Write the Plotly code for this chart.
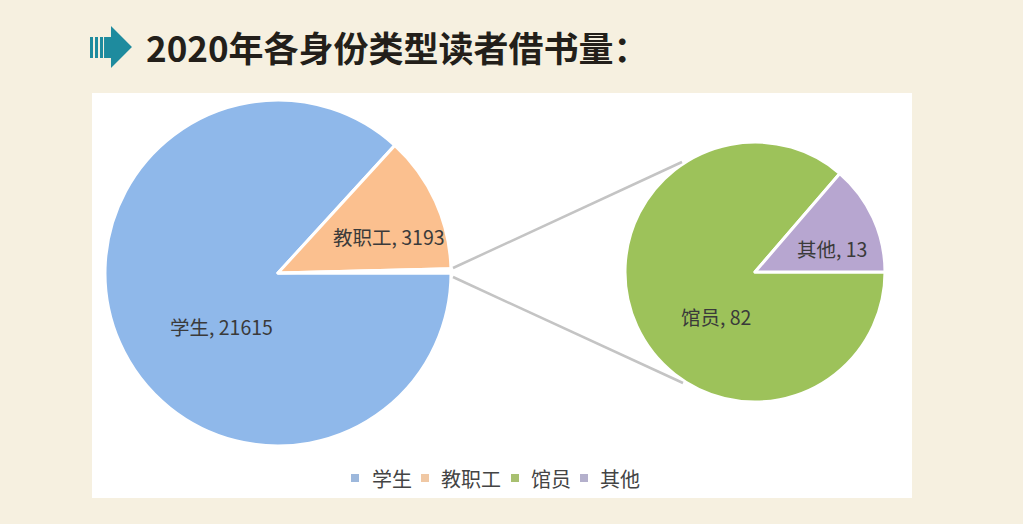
import plotly.graph_objects as go

W = 1023
H = 524
FONT = "Noto Sans CJK SC"

title = "2020年各身份类型读者借书量："
labels_main = ["学生", "教职工", "馆员+其他"]
values_main = [21615, 3193, 95]
colors_main = ["#8FB8EA", "#FBC08F", "#FFFFFF"]
labels_sub = ["馆员", "其他"]
values_sub = [82, 13]
colors_sub = ["#9DC25A", "#B7A6D0"]
legend_labels = ["学生", "教职工", "馆员", "其他"]
legend_colors = ["#9DB8DC", "#F0C8A4", "#A8C070", "#B4B0CC"]
legend_square_x = [355, 425, 515, 584]
legend_text_x = [370, 439, 529, 598]


def px(x):
    return x / W


def py(y):
    return 1 - y / H


def pie_domain(cx, cy, r):
    return dict(x=[px(cx - r), px(cx + r)], y=[py(cy + r), py(cy - r)])


def rect(x0, y0, x1, y1, color):
    return dict(type="rect", xref="paper", yref="paper", x0=px(x0), x1=px(x1), y0=py(y0), y1=py(y1),
                fillcolor=color, line=dict(width=0), layer="below")


def seg(x0, y0, x1, y1):
    return dict(type="line", xref="paper", yref="paper", x0=px(x0), x1=px(x1), y0=py(y0), y1=py(y1),
                line=dict(color="#C4C4C4", width=2.5))


def text(x, y, s, size, color="#3A3A3A", anchor="center"):
    return dict(x=px(x), y=py(y), xref="paper", yref="paper", text=s, showarrow=False, xanchor=anchor,
                yanchor="middle", font=dict(family=FONT, size=size, color=color))


fig = go.Figure()
fig.add_trace(go.Pie(labels=labels_main, values=values_main, sort=False, direction="clockwise", rotation=90,
                     domain=pie_domain(278, 273, 173), textinfo="none", hoverinfo="label+value", showlegend=False,
                     marker=dict(colors=colors_main, line=dict(color="#FFFFFF", width=3))))
fig.add_trace(go.Pie(labels=labels_sub, values=values_sub, sort=False, direction="clockwise", rotation=90,
                     domain=pie_domain(755, 272, 130), textinfo="none", hoverinfo="label+value", showlegend=False,
                     marker=dict(colors=colors_sub, line=dict(color="#FFFFFF", width=3))))

shapes = [rect(92, 93, 912, 498, "#FFFFFF"), seg(453, 268, 682, 162), seg(453, 277, 683, 383)]

# arrow icon
teal = "#1E8B9E"
for x0, x1 in [(90, 93), (95, 98), (100, 103)]:
    shapes.append(rect(x0, 37, x1, 58, teal))
arrow = [(104, 37), (111, 37), (111, 26), (132, 47), (111, 68), (111, 58), (104, 58)]
path = "M " + " L ".join(f"{px(a):.4f},{py(b):.4f}" for a, b in arrow) + " Z"
shapes.append(dict(type="path", xref="paper", yref="paper", path=path, fillcolor=teal, line=dict(width=0)))

annotations = [
    text(144, 47, f"<b>{title}</b>", 35, "#231F1A", "left"),
    text(221, 326, f"{labels_main[0]}, {values_main[0]}", 19.5),
    text(389, 236, f"{labels_main[1]}, {values_main[1]}", 19.5),
    text(716, 316, f"{labels_sub[0]}, {values_sub[0]}", 19.5),
    text(832, 248, f"{labels_sub[1]}, {values_sub[1]}", 19.5),
]

# legend drawn by hand, the native one can't get this tight
for name, c, sx, tx in zip(legend_labels, legend_colors, legend_square_x, legend_text_x):
    shapes.append(rect(sx - 4, 474, sx + 4, 482, c))
    annotations.append(text(tx, 478, name, 20, "#444444", "left"))

fig.update_layout(
    width=W, height=H, margin=dict(l=0, r=0, t=0, b=0, autoexpand=False),
    paper_bgcolor="#F6F0E0", showlegend=False,
    shapes=shapes, annotations=annotations,
)

fig.write_html("out.html", config=dict(displayModeBar=False), post_script="document.body.style.margin='0';")
